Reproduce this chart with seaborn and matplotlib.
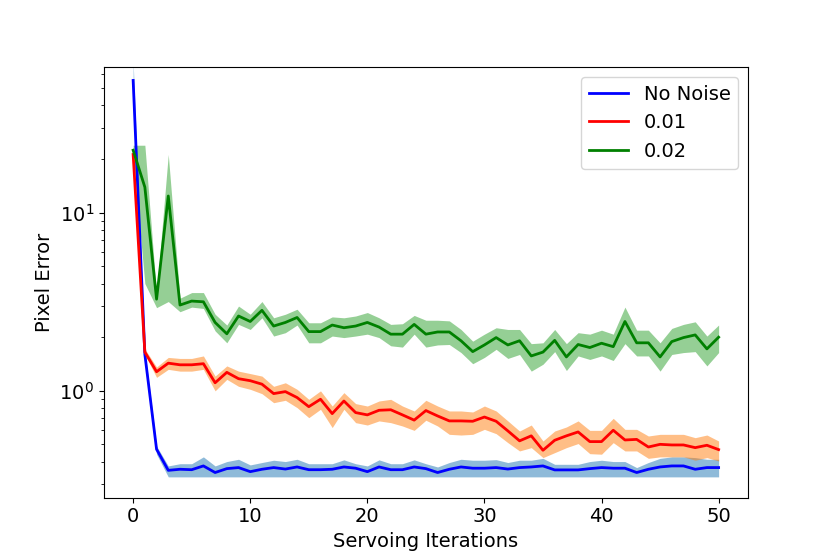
import numpy as np
import pandas as pd
import matplotlib
matplotlib.use("Agg")
import matplotlib.pyplot as plt
import seaborn as sns

# ----------------- DATA -----------------
iterations = np.arange(51)

no_noise_mean = [55.2, 1.6, 0.47, 0.358, 0.363, 0.361, 0.379, 0.348, 0.366, 0.371,
                 0.352, 0.363, 0.371, 0.364, 0.374, 0.361, 0.361, 0.363, 0.374, 0.368,
                 0.352, 0.374, 0.361, 0.361, 0.374, 0.366, 0.348, 0.363, 0.374, 0.368,
                 0.368, 0.371, 0.364, 0.371, 0.374, 0.379, 0.360, 0.360, 0.360, 0.366,
                 0.371, 0.368, 0.368, 0.348, 0.363, 0.374, 0.379, 0.379, 0.363, 0.371,
                 0.371]
no_noise_upper = [70.0, 1.7, 0.49, 0.379, 0.390, 0.390, 0.426, 0.379, 0.401, 0.413,
                  0.384, 0.396, 0.408, 0.401, 0.413, 0.390, 0.390, 0.390, 0.410, 0.390,
                  0.379, 0.410, 0.390, 0.390, 0.410, 0.390, 0.374, 0.396, 0.413, 0.408,
                  0.408, 0.411, 0.396, 0.408, 0.408, 0.418, 0.387, 0.387, 0.387, 0.401,
                  0.408, 0.401, 0.401, 0.371, 0.396, 0.418, 0.426, 0.426, 0.422, 0.413,
                  0.413]
no_noise_lower = [45.0, 1.5, 0.441] + [0.329] * 48

n01_mean = [21.2, 1.65, 1.28, 1.43, 1.40, 1.40, 1.42, 1.11, 1.27, 1.17,
            1.14, 1.09, 0.965, 0.99, 0.917, 0.815, 0.897, 0.745, 0.877, 0.755,
            0.733, 0.778, 0.783, 0.733, 0.685, 0.775, 0.723, 0.678, 0.678, 0.675,
            0.713, 0.675, 0.596, 0.524, 0.559, 0.464, 0.528, 0.559, 0.588, 0.519,
            0.519, 0.601, 0.530, 0.534, 0.484, 0.501, 0.497, 0.497, 0.480, 0.495,
            0.468]
n01_upper = [22.0, 1.72, 1.36, 1.54, 1.52, 1.52, 1.57, 1.21, 1.38, 1.29,
             1.25, 1.21, 1.06, 1.11, 1.02, 0.896, 1.00, 0.822, 0.977, 0.848,
             0.822, 0.877, 0.896, 0.822, 0.771, 0.885, 0.822, 0.771, 0.771, 0.761,
             0.822, 0.771, 0.678, 0.595, 0.643, 0.523, 0.595, 0.627, 0.678, 0.600,
             0.600, 0.701, 0.608, 0.608, 0.558, 0.570, 0.570, 0.570, 0.546, 0.565,
             0.523]
n01_lower = [20.5, 1.60, 1.19, 1.32, 1.29, 1.29, 1.32, 1.00, 1.16, 1.06,
             1.02, 0.964, 0.858, 0.885, 0.805, 0.707, 0.788, 0.622, 0.788, 0.663,
             0.643, 0.678, 0.663, 0.635, 0.600, 0.684, 0.635, 0.570, 0.565, 0.570,
             0.608, 0.575, 0.512, 0.460, 0.480, 0.422, 0.450, 0.480, 0.506, 0.444,
             0.441, 0.512, 0.460, 0.460, 0.418, 0.426, 0.426, 0.426, 0.408, 0.422,
             0.404]

n02_mean = [22.4, 13.9, 3.27, 12.4, 3.03, 3.19, 3.16, 2.42, 2.09, 2.63,
            2.45, 2.83, 2.31, 2.42, 2.58, 2.15, 2.15, 2.34, 2.26, 2.31,
            2.42, 2.28, 2.08, 2.08, 2.36, 2.08, 2.14, 2.14, 1.91, 1.66,
            1.81, 1.99, 1.81, 1.91, 1.57, 1.65, 1.92, 1.55, 1.82, 1.75,
            1.85, 1.77, 2.45, 1.86, 1.86, 1.55, 1.89, 1.99, 2.06, 1.72,
            2.00]
n02_upper = [23.9, 23.9, 3.5, 21.2, 3.31, 3.56, 3.56, 2.69, 2.34, 2.99,
             2.69, 3.17, 2.57, 2.69, 2.87, 2.41, 2.41, 2.60, 2.57, 2.63,
             2.75, 2.57, 2.36, 2.38, 2.65, 2.49, 2.49, 2.47, 2.21, 1.90,
             2.08, 2.26, 2.21, 2.21, 1.84, 1.86, 2.21, 1.84, 2.12, 2.08,
             2.19, 2.08, 2.95, 2.19, 2.19, 1.86, 2.24, 2.36, 2.44, 2.03,
             2.34]
n02_lower = [21.0, 4.0, 2.93, 3.17, 2.78, 2.95, 2.90, 2.17, 1.86, 2.36,
             2.21, 2.57, 2.03, 2.12, 2.34, 1.86, 1.86, 2.03, 1.99, 2.03,
             2.08, 1.99, 1.79, 1.76, 2.08, 1.76, 1.81, 1.82, 1.64, 1.42,
             1.54, 1.71, 1.52, 1.60, 1.29, 1.41, 1.66, 1.30, 1.57, 1.50,
             1.57, 1.48, 1.84, 1.57, 1.57, 1.29, 1.60, 1.64, 1.66, 1.38,
             1.64]

series = [
    ("No Noise", no_noise_mean, no_noise_lower, no_noise_upper, "blue", "tab:blue"),
    ("0.01", n01_mean, n01_lower, n01_upper, "red", "tab:orange"),
    ("0.02", n02_mean, n02_lower, n02_upper, "green", "tab:green"),
]

# ----------------- PLOTTING -----------------
fig, ax = plt.subplots(figsize=(8.31, 5.59), dpi=100)

for label, mean, lower, upper, line_color, band_color in series:
    df = pd.DataFrame({"iter": iterations, "err": mean})
    ax.fill_between(iterations, lower, upper, color=band_color, alpha=0.5, linewidth=0)
    sns.lineplot(data=df, x="iter", y="err", color=line_color, linewidth=2,
                 label=label, ax=ax)

ax.set_yscale("log")
ax.set_ylim(0.252, 65.6)
ax.set_xlim(-2.5, 52.5)
ax.set_xticks([0, 10, 20, 30, 40, 50])
ax.set_xlabel("Servoing Iterations", fontsize=14)
ax.set_ylabel("Pixel Error", fontsize=14)
ax.tick_params(axis="both", which="major", labelsize=14)
ax.legend(loc="upper right", fontsize=14)

plt.savefig("out.png", dpi=100)
plt.close()
